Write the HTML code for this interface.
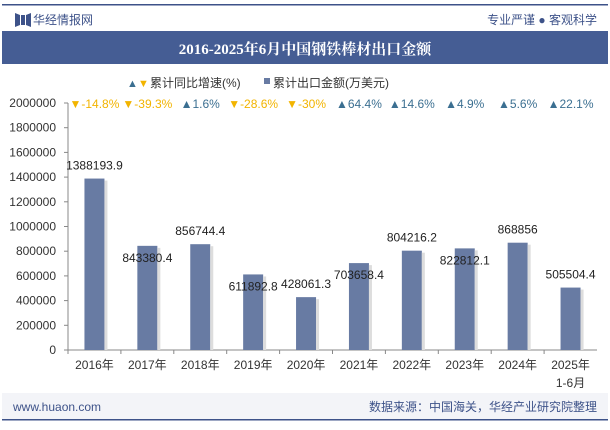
<!DOCTYPE html>
<html><head><meta charset="utf-8"><style>
body{margin:0;width:610px;height:425px;overflow:hidden;background:#fff;font-family:"Liberation Sans","Noto Sans CJK SC",sans-serif}
</style></head><body>
<svg width="610" height="425" xmlns="http://www.w3.org/2000/svg" font-family="Liberation Sans, Noto Sans CJK SC, sans-serif">
<rect x="2" y="4" width="606" height="1.5" fill="#3d5289"/>
<g><path d="M15 13 L20 15 L20 25 L15 27Z M21 15 L25 15 L25 25 L21 25Z M26 15 L31 13 L31 27 L26 25Z" fill="#3d5289"/></g>
<text x="33" y="24" font-size="12" fill="#3d5289">华经情报网</text>
<text x="597" y="24" font-size="12" fill="#3d5289" text-anchor="end">专业严谨 ● 客观科学</text>
<rect x="2" y="31" width="606" height="33" fill="#455d94"/>
<text x="305" y="54" font-size="15" font-weight="bold" fill="#fff" text-anchor="middle" font-family="Liberation Serif, Noto Serif CJK SC, serif">2016-2025年6月中国钢铁棒材出口金额</text>
<g font-size="12" fill="#333">
<text x="127" y="87" fill="#3b6f91" font-size="11">▲</text><text x="138" y="87" fill="#f2b400" font-size="11">▼</text>
<text x="150" y="87">累计同比增速(%)</text>
<rect x="264" y="78" width="6" height="6" fill="#687ba3"/>
<text x="273" y="87">累计出口金额(万美元)</text>
</g>
<g id="axes"></g><g id="bars"></g>
<rect x="2" y="393" width="606" height="27" fill="#f3f4f8"/>
<rect x="2" y="419" width="606" height="1.5" fill="#3d5289"/>
<text x="13" y="411" font-size="12" fill="#3d5289">www.huaon.com</text>
<text x="597" y="411" font-size="12" fill="#3d5289" text-anchor="end">数据来源：中国海关，华经产业研究院整理</text>
</svg>
<script>
const categories=["2016年","2017年","2018年","2019年","2020年","2021年","2022年","2023年","2024年","2025年"];
const values=[1388193.9,843380.4,856744.4,611892.8,428061.3,703658.4,804216.2,822812.1,868856,505504.4];
const growth=[-14.8,-39.3,1.6,-28.6,-30,64.4,14.6,4.9,5.6,22.1];
const yTicks=[0,200000,400000,600000,800000,1000000,1200000,1400000,1600000,1800000,2000000];
const NS="http://www.w3.org/2000/svg";
const x0=68,x1=597,yb=350,yt=103,yMax=2000000;
const bw=(x1-x0)/categories.length;
const y=v=>yb-(v/yMax)*(yb-yt);
const xc=i=>x0+bw*(i+0.5);
function mk(t,a,p,txt){const e=document.createElementNS(NS,t);for(const k in a)e.setAttribute(k,a[k]);if(txt!==undefined)e.textContent=txt;p.appendChild(e);return e;}
const ax=document.getElementById('axes'),bg=document.getElementById('bars');
const yl=mk('line',{x1:x0,x2:x0,y1:yt,y2:yb,stroke:'#888'},ax);


const xl=mk('line',{x1:x0,x2:x1,y1:yb,y2:yb,stroke:'#888'},ax);


yTicks.forEach(v=>{const t=mk('text',{x:56,y:y(v)+4,'font-size':12,fill:'#333','text-anchor':'end'},ax,String(v));


mk('line',{x1:x0-4,x2:x0,y1:y(v),y2:y(v),stroke:'#888'},ax);});
categories.forEach((c,i)=>{
mk('line',{x1:x0+bw*i,x2:x0+bw*i,y1:yb,y2:yb+4,stroke:'#888'},ax);
const t=mk('text',{x:xc(i),y:yb+19,'font-size':12,fill:'#333','text-anchor':'middle'},ax,c);


if(i===categories.length-1){const t2=mk('text',{x:xc(i),y:yb+37,'font-size':12,fill:'#333','text-anchor':'middle'},ax,'1-6月');

}
const b=mk('rect',{x:xc(i)-10,y:y(values[i]),width:20,height:yb-y(values[i]),fill:'#687ba3'},bg);


mk('rect',{x:xc(i)+10,y:y(values[i])+2,width:3,height:yb-y(values[i])-2,fill:'#ddd'},bg);
const below=(i%2===1&&i<8);
const l=mk('text',{x:xc(i),y:below?y(values[i])+16:y(values[i])-9,'font-size':12,fill:'#222','text-anchor':'middle'},bg,String(values[i]));


const up=growth[i]>=0;
const g=mk('text',{x:xc(i),y:108,'font-size':12,fill:up?'#3b6f91':'#f2b400','text-anchor':'middle'},bg,(up?'▲':'▼')+growth[i]+'%');


});
</script>
</body></html>
